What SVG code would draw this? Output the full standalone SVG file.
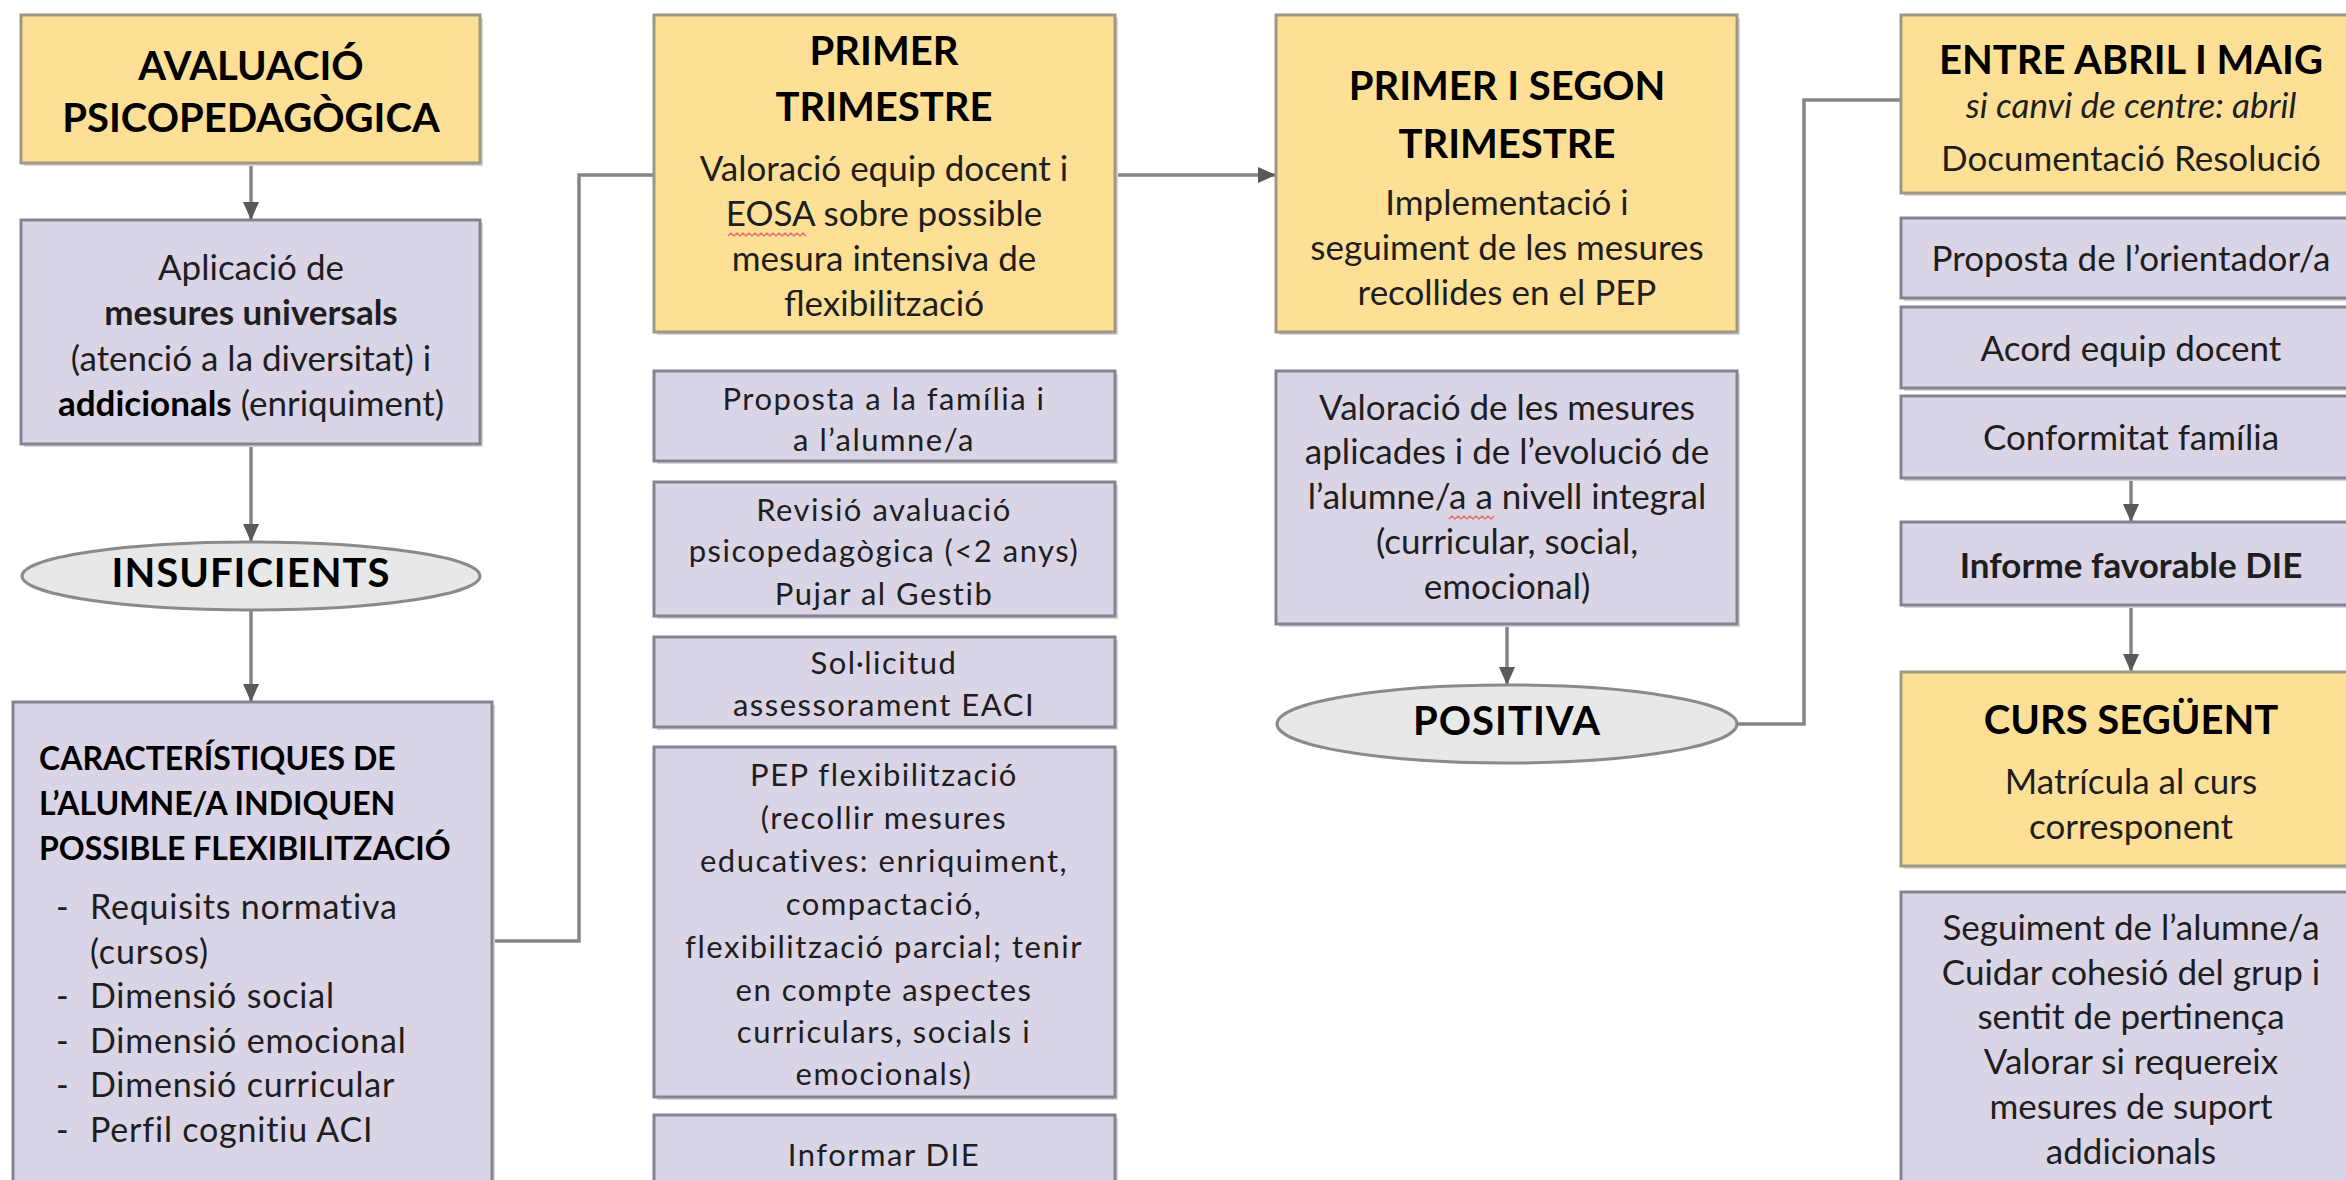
<svg xmlns="http://www.w3.org/2000/svg" width="2346" height="1180" viewBox="0 0 2346 1180">
<defs>
<style>
.y{fill:#FDE096;stroke:#9E9786;stroke-width:3}
.l{fill:#D9D4E6;stroke:#858390;stroke-width:3}
.e{fill:#E8E8E8;stroke:#8A8A8A;stroke-width:3}
.sh{fill:#D6D6D6}
.c{fill:none;stroke:#858585;stroke-width:3.5}
text{font-family:Lato,"Open Sans","Liberation Sans",sans-serif}
.t{font-weight:bold;font-size:40px;fill:#000;text-anchor:middle}
.b{font-size:35px;fill:#1E1E1E;text-anchor:middle}
.s{font-size:31px;fill:#1E1E1E;text-anchor:middle;letter-spacing:1.5px}
.bl{font-weight:bold;font-size:32px;fill:#000}
.li{font-size:34px;fill:#1E1E1E;letter-spacing:0.8px}
.sq{fill:none;stroke:#E57373;stroke-width:1.5}
</style>
<marker id="ar" viewBox="0 0 18 16" refX="18" refY="8" markerWidth="18" markerHeight="16" markerUnits="userSpaceOnUse" orient="auto">
<path d="M0,0 L18,8 L0,16 Z" fill="#595959"/>
</marker>
</defs>
<rect width="2346" height="1180" fill="#FFFFFF"/>

<g id="connectors">
<line class="c" x1="251" y1="163" x2="251" y2="220" marker-end="url(#ar)"/>
<line class="c" x1="251" y1="444" x2="251" y2="542" marker-end="url(#ar)"/>
<line class="c" x1="251" y1="610" x2="251" y2="702" marker-end="url(#ar)"/>
<polyline class="c" points="492,941 579,941 579,175 654,175"/>
<line class="c" x1="1115" y1="175" x2="1276" y2="175" marker-end="url(#ar)"/>
<line class="c" x1="1507" y1="624" x2="1507" y2="685" marker-end="url(#ar)"/>
<polyline class="c" points="1737,724 1804,724 1804,100 1901,100"/>
<line class="c" x1="2131" y1="478" x2="2131" y2="522" marker-end="url(#ar)"/>
<line class="c" x1="2131" y1="605" x2="2131" y2="672" marker-end="url(#ar)"/>
</g>

<g id="avaluacio">
<rect class="sh" x="24" y="18" width="459" height="148"/>
<rect class="y" x="21" y="15" width="459" height="148"/>
<text class="t" x="251" y="80" font-size="39">AVALUACIÓ</text>
<text class="t" x="251" y="132" font-size="39">PSICOPEDAGÒGICA</text>
</g>

<g id="aplicacio">
<rect class="sh" x="24" y="223" width="459" height="224"/>
<rect class="l" x="21" y="220" width="459" height="224"/>
<text class="b" x="251" y="280">Aplicació de</text>
<text class="b" x="251" y="325" font-weight="bold" fill="#000">mesures universals</text>
<text class="b" x="251" y="371">(atenció a la diversitat) i</text>
<text class="b" x="251" y="416"><tspan font-weight="bold" fill="#000">addicionals</tspan> (enriquiment)</text>
</g>

<g id="insuficients">
<ellipse class="e" cx="251" cy="576" rx="229" ry="34"/>
<text class="t" x="251" y="587" font-size="30" letter-spacing="1">INSUFICIENTS</text>
</g>

<g id="caracteristiques">
<rect class="sh" x="16" y="705" width="479" height="490"/>
<rect class="l" x="13" y="702" width="479" height="490"/>
<text class="bl" x="39" y="770">CARACTERÍSTIQUES DE</text>
<text class="bl" x="39" y="815">L’ALUMNE/A INDIQUEN</text>
<text class="bl" x="39" y="860">POSSIBLE FLEXIBILITZACIÓ</text>
<text class="li" x="56" y="919">-</text><text class="li" x="90" y="919">Requisits normativa</text>
<text class="li" x="90" y="964">(cursos)</text>
<text class="li" x="56" y="1008">-</text><text class="li" x="90" y="1008">Dimensió social</text>
<text class="li" x="56" y="1053">-</text><text class="li" x="90" y="1053">Dimensió emocional</text>
<text class="li" x="56" y="1097">-</text><text class="li" x="90" y="1097">Dimensió curricular</text>
<text class="li" x="56" y="1142">-</text><text class="li" x="90" y="1142">Perfil cognitiu ACI</text>
</g>

<g id="primer-trimestre">
<rect class="sh" x="657" y="18" width="461" height="317"/>
<rect class="y" x="654" y="15" width="461" height="317"/>
<text class="t" x="884" y="65" font-size="38">PRIMER</text>
<text class="t" x="884" y="121" font-size="38">TRIMESTRE</text>
<text class="b" x="884" y="181">Valoració equip docent i</text>
<text class="b" x="884" y="226">EOSA sobre possible</text>
<text class="b" x="884" y="271">mesura intensiva de</text>
<text class="b" x="884" y="316">flexibilització</text>
<path class="sq" d="M728,236 l3,-3 l3,3 l3,-3 l3,3 l3,-3 l3,3 l3,-3 l3,3 l3,-3 l3,3 l3,-3 l3,3 l3,-3 l3,3 l3,-3 l3,3 l3,-3 l3,3 l3,-3 l3,3 l3,-3 l3,3 l3,-3 l3,3 l3,-3 l3,3"/>
</g>

<g id="proposta-familia">
<rect class="sh" x="657" y="374" width="461" height="90"/>
<rect class="l" x="654" y="371" width="461" height="90"/>
<text class="s" x="884" y="410">Proposta a la família i</text>
<text class="s" x="884" y="451">a l’alumne/a</text>
</g>

<g id="revisio">
<rect class="sh" x="657" y="485" width="461" height="134"/>
<rect class="l" x="654" y="482" width="461" height="134"/>
<text class="s" x="884" y="521">Revisió avaluació</text>
<text class="s" x="884" y="562">psicopedagògica (&lt;2 anys)</text>
<text class="s" x="884" y="605">Pujar al Gestib</text>
</g>

<g id="sollicitud">
<rect class="sh" x="657" y="640" width="461" height="90"/>
<rect class="l" x="654" y="637" width="461" height="90"/>
<text class="s" x="884" y="674">Sol·licitud</text>
<text class="s" x="884" y="716">assessorament EACI</text>
</g>

<g id="pep">
<rect class="sh" x="657" y="750" width="461" height="350"/>
<rect class="l" x="654" y="747" width="461" height="350"/>
<text class="s" x="884" y="786">PEP flexibilització</text>
<text class="s" x="884" y="829">(recollir mesures</text>
<text class="s" x="884" y="872">educatives: enriquiment,</text>
<text class="s" x="884" y="915">compactació,</text>
<text class="s" x="884" y="958">flexibilització parcial; tenir</text>
<text class="s" x="884" y="1001">en compte aspectes</text>
<text class="s" x="884" y="1043">curriculars, socials i</text>
<text class="s" x="884" y="1085">emocionals)</text>
</g>

<g id="informar-die">
<rect class="sh" x="657" y="1118" width="461" height="80"/>
<rect class="l" x="654" y="1115" width="461" height="80"/>
<text class="s" x="884" y="1166">Informar DIE</text>
</g>

<g id="primer-segon">
<rect class="sh" x="1279" y="18" width="461" height="317"/>
<rect class="y" x="1276" y="15" width="461" height="317"/>
<text class="t" x="1507" y="100" font-size="41">PRIMER I SEGON</text>
<text class="t" x="1507" y="158" font-size="41">TRIMESTRE</text>
<text class="b" x="1507" y="215">Implementació i</text>
<text class="b" x="1507" y="260">seguiment de les mesures</text>
<text class="b" x="1507" y="305">recollides en el PEP</text>
</g>

<g id="valoracio">
<rect class="sh" x="1279" y="374" width="461" height="253"/>
<rect class="l" x="1276" y="371" width="461" height="253"/>
<text class="b" x="1507" y="420">Valoració de les mesures</text>
<text class="b" x="1507" y="464">aplicades i de l’evolució de</text>
<text class="b" x="1507" y="509">l’alumne/a a nivell integral</text>
<text class="b" x="1507" y="554">(curricular, social,</text>
<text class="b" x="1507" y="599">emocional)</text>
<path class="sq" d="M1449,519 l3,-3 l3,3 l3,-3 l3,3 l3,-3 l3,3 l3,-3 l3,3 l3,-3 l3,3 l3,-3 l3,3 l3,-3 l3,3 l3,-3"/>
</g>

<g id="positiva">
<ellipse class="e" cx="1507" cy="724" rx="230" ry="39"/>
<text class="t" x="1507" y="735" font-size="31.5" letter-spacing="1">POSITIVA</text>
</g>

<g id="entre-abril-maig">
<rect class="sh" x="1904" y="18" width="461" height="178"/>
<rect class="y" x="1901" y="15" width="461" height="178"/>
<text class="t" x="2131" y="74" font-size="38.5">ENTRE ABRIL I MAIG</text>
<text class="b" x="2131" y="118" font-size="28" font-style="italic">si canvi de centre: abril</text>
<text class="b" x="2131" y="171" font-size="32.5">Documentació Resolució</text>
</g>

<g id="proposta-orientador">
<rect class="sh" x="1904" y="221" width="461" height="80"/>
<rect class="l" x="1901" y="218" width="461" height="80"/>
<text class="b" x="2131" y="271" font-size="33">Proposta de l’orientador/a</text>
</g>

<g id="acord">
<rect class="sh" x="1904" y="310" width="461" height="81"/>
<rect class="l" x="1901" y="307" width="461" height="81"/>
<text class="b" x="2131" y="361" font-size="33">Acord equip docent</text>
</g>

<g id="conformitat">
<rect class="sh" x="1904" y="399" width="461" height="82"/>
<rect class="l" x="1901" y="396" width="461" height="82"/>
<text class="b" x="2131" y="450" font-size="33">Conformitat família</text>
</g>

<g id="informe-favorable">
<rect class="sh" x="1904" y="525" width="461" height="83"/>
<rect class="l" x="1901" y="522" width="461" height="83"/>
<text class="b" x="2131" y="578" font-size="32.5" font-weight="bold" fill="#000">Informe favorable DIE</text>
</g>

<g id="curs-seguent">
<rect class="sh" x="1904" y="675" width="461" height="194"/>
<rect class="y" x="1901" y="672" width="461" height="194"/>
<text class="t" x="2131" y="734">CURS SEGÜENT</text>
<text class="b" x="2131" y="794">Matrícula al curs</text>
<text class="b" x="2131" y="839">corresponent</text>
</g>

<g id="seguiment">
<rect class="sh" x="1904" y="895" width="461" height="300"/>
<rect class="l" x="1901" y="892" width="461" height="300"/>
<text class="b" x="2131" y="940">Seguiment de l’alumne/a</text>
<text class="b" x="2131" y="985">Cuidar cohesió del grup i</text>
<text class="b" x="2131" y="1029">sentit de pertinença</text>
<text class="b" x="2131" y="1074">Valorar si requereix</text>
<text class="b" x="2131" y="1119">mesures de suport</text>
<text class="b" x="2131" y="1164">addicionals</text>
</g>
</svg>
